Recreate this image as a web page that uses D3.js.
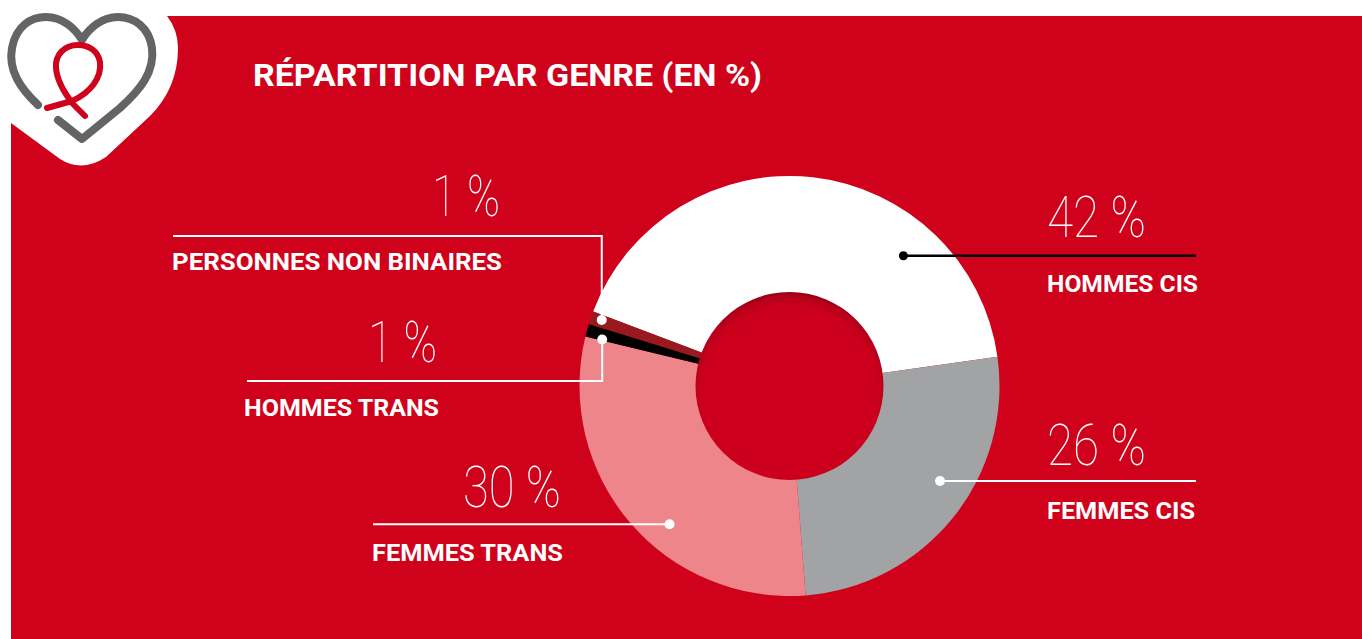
<!DOCTYPE html>
<html>
<head>
<meta charset="utf-8">
<script src="https://cdn.jsdelivr.net/npm/d3@7"></script>
<style>
  body { margin: 0; background: #ffffff; }
  svg { display: block; }
</style>
</head>
<body>
<svg width="1362" height="639"></svg>
<script>
// gender split, in %
var categories = ['HOMMES CIS', 'FEMMES CIS', 'FEMMES TRANS', 'HOMMES TRANS', 'PERSONNES NON BINAIRES'];
var shares = [42, 26, 30, 1, 1];
var shareLabels = ['42 %', '26 %', '30 %', '1 %', '1 %'];
var title = 'RÉPARTITION PAR GENRE (EN %)';

var sliceColors = ['#ffffff', '#a2a3a5', '#ee858b', '#000000', '#981a1f'];
var red = '#d0011b';

var svg = d3.select('svg');
var svgWidth = +svg.attr('width');
var svgHeight = +svg.attr('height');

var center = {x: 789.5, y: 386};
var outerR = 210, innerR = 94;

// background panel
svg.append('rect')
    .attr('x', 11).attr('y', 16)
    .attr('width', svgWidth - 11).attr('height', svgHeight - 16)
    .attr('fill', red);

// logo: white heart blob, grey heart, red ribbon
var logo = svg.append('g').attr('class', 'logo');
logo.append('path')
    .attr('d', 'M0,0 L170,0 L167,16 Q178,30 178,48 Q178,88 150,116 L106,157 Q82,173 60,159 L11,123 L0,123 Z')
    .attr('fill', '#ffffff');
logo.append('path')
    .attr('d', 'M38,105 C20,88 8,70 12,48 C16,26 31,17 46,17 C62,17 75,28 82,40 C89,28 102,17 118,17 C134,17 149,27 152,48 C155,72 140,90 120,108 L82,139 L58,120')
    .attr('fill', 'none').attr('stroke', '#636466')
    .attr('stroke-width', 8).attr('stroke-linecap', 'round').attr('stroke-linejoin', 'round');
logo.append('path')
    .attr('d', 'M47,108 L72,101 C90,93 102,78 100,62 C98,51 89,45 78,45 C64,45 55,55 56,68 C57,82 66,95 73,104 L85,116')
    .attr('fill', 'none').attr('stroke', red)
    .attr('stroke-width', 6).attr('stroke-linecap', 'round').attr('stroke-linejoin', 'round');

// title
svg.append('text')
    .attr('x', 253).attr('y', 86)
    .attr('textLength', 509).attr('lengthAdjust', 'spacingAndGlyphs')
    .attr('font-family', 'Roboto, sans-serif').attr('font-weight', 700)
    .attr('font-size', 32).attr('fill', '#ffffff')
    .text(title);

// donut
var pie = d3.pie().sort(null)
    .startAngle(-69.2 * Math.PI / 180)
    .endAngle((360 - 69.2) * Math.PI / 180);
var arcs = pie(shares);
var arc = d3.arc().innerRadius(innerR - 2).outerRadius(outerR);

var donut = svg.append('g')
    .attr('transform', 'translate(' + [center.x, center.y] + ')');

donut.selectAll('.slice')
    .data(arcs)
    .enter()
    .append('path')
    .attr('class', 'slice')
    .attr('d', arc)
    .attr('fill', function(d, i) { return sliceColors[i]; });

// hole with inner shadow
var defs = svg.append('defs');
var grad = defs.append('radialGradient')
    .attr('id', 'holeShade')
    .attr('cx', '50%').attr('cy', '54%').attr('r', '56%')
    .attr('fx', '50%').attr('fy', '58%');
grad.append('stop').attr('offset', '0.84').attr('stop-color', '#cc001c');
grad.append('stop').attr('offset', '0.93').attr('stop-color', '#b5001a');
grad.append('stop').attr('offset', '1').attr('stop-color', '#6e0010');

donut.append('circle')
    .attr('r', innerR)
    .attr('fill', 'url(#holeShade)');

// callouts: where the dot sits inside its slice, and how the line runs
var callouts = [
    {i: 0, frac: 0.73, r: 173, color: '#000000', end: 1196, numX: 1047, numW: 99, numY: 237, labX: 1047, labW: 151, labY: 292},
    {i: 1, frac: 0.43, r: 178, color: '#ffffff', end: 1196, numX: 1047, numW: 99, numY: 465, labX: 1047, labW: 148, labY: 519},
    {i: 2, frac: 0.42, r: 183, color: '#ffffff', end: 373, numX: 463, numW: 98, numY: 507, labX: 372, labW: 191, labY: 561},
    {i: 3, frac: 0.1, r: 193, color: '#ffffff', end: 247, elbowY: 381, numX: 368, numW: 69, numY: 362, labX: 244, labW: 195, labY: 416},
    {i: 4, frac: 0.6, r: 199, color: '#ffffff', end: 173, elbowY: 236, numX: 432, numW: 68, numY: 216, labX: 172, labW: 330, labY: 270}
];

callouts.forEach(function(c) {
    var a = arcs[c.i];
    var ang = a.startAngle + (a.endAngle - a.startAngle) * c.frac;
    var px = center.x + c.r * Math.sin(ang);
    var py = center.y - c.r * Math.cos(ang);
    var pts = c.elbowY !== undefined
        ? [[px, py], [px, c.elbowY], [c.end, c.elbowY]]
        : [[px, py], [c.end, py]];

    svg.append('path')
        .attr('d', d3.line()(pts))
        .attr('fill', 'none')
        .attr('stroke', c.color)
        .attr('stroke-width', c.i === 0 ? 2.5 : 2);

    svg.append('circle')
        .attr('cx', px).attr('cy', py)
        .attr('r', c.i === 0 ? 4.5 : 5)
        .attr('fill', c.color);

    svg.append('text')
        .attr('x', c.numX).attr('y', c.numY)
        .attr('textLength', c.numW).attr('lengthAdjust', 'spacingAndGlyphs')
        .attr('font-family', 'Roboto, sans-serif').attr('font-weight', 100)
        .attr('font-size', 58).attr('fill', '#ffffff')
        .text(shareLabels[c.i]);

    svg.append('text')
        .attr('x', c.labX).attr('y', c.labY)
        .attr('textLength', c.labW).attr('lengthAdjust', 'spacingAndGlyphs')
        .attr('font-family', 'Roboto, sans-serif').attr('font-weight', 700)
        .attr('font-size', 24).attr('fill', '#ffffff')
        .text(categories[c.i]);
});
</script>
</body>
</html>
